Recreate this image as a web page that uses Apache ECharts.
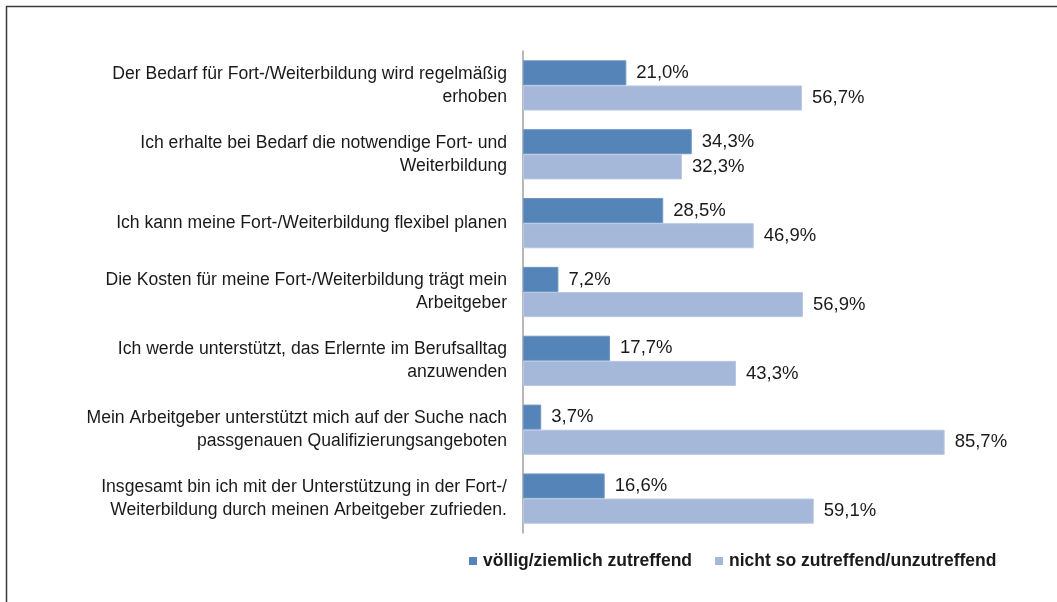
<!DOCTYPE html>
<html>
<head>
<meta charset="utf-8">
<script src="https://cdn.jsdelivr.net/npm/echarts@6/dist/echarts.min.js"></script>
<style>
  html, body { margin: 0; padding: 0; background: #fff; }
  #chart { width: 1057px; height: 602px; }
</style>
</head>
<body>
<div id="chart"></div>
<script>
const categories = [
  'Der Bedarf für Fort-/Weiterbildung wird regelmäßig\nerhoben',
  'Ich erhalte bei Bedarf die notwendige Fort- und\nWeiterbildung',
  'Ich kann meine Fort-/Weiterbildung flexibel planen',
  'Die Kosten für meine Fort-/Weiterbildung trägt mein\nArbeitgeber',
  'Ich werde unterstützt, das Erlernte im Berufsalltag\nanzuwenden',
  'Mein Arbeitgeber unterstützt mich auf der Suche nach\npassgenauen Qualifizierungsangeboten',
  'Insgesamt bin ich mit der Unterstützung in der Fort-/\nWeiterbildung durch meinen Arbeitgeber zufrieden.'
];
const seriesNames = ['völlig/ziemlich zutreffend', 'nicht so zutreffend/unzutreffend'];
const agree = [21.0, 34.3, 28.5, 7.2, 17.7, 3.7, 16.6];
const disagree = [56.7, 32.3, 46.9, 56.9, 43.3, 85.7, 59.1];

const chart = echarts.init(document.getElementById('chart'));

const font = 'Liberation Sans, Arial, sans-serif';
const fmt = p => p.value.toFixed(1).replace('.', ',') + '%';
const labelStyle = {
  show: true,
  position: 'right',
  distance: 10,
  formatter: fmt,
  fontFamily: font,
  fontSize: 18.5,
  color: '#1a1a1a'
};

chart.setOption({
  animation: false,
  backgroundColor: '#fff',
  graphic: [{
    type: 'rect',
    shape: { x: 6.5, y: 6.5, width: 1200, height: 800 },
    style: { fill: 'none', stroke: '#3a3a3a', lineWidth: 1.5 },
    silent: true
  }],
  grid: { left: 523, right: 42, top: 51, bottom: 69 },
  legend: {
    top: 552,
    left: 469,
    padding: 0,
    itemWidth: 8,
    itemHeight: 8,
    itemGap: 23,
    icon: 'rect',
    itemStyle: { borderWidth: 0 },
    textStyle: {
      fontFamily: font,
      fontSize: 17.5,
      fontWeight: 'bold',
      color: '#1a1a1a',
      padding: [0, 0, 0, 1]
    },
    data: seriesNames
  },
  xAxis: {
    type: 'value',
    min: 0,
    max: 100,
    show: false
  },
  yAxis: {
    type: 'category',
    inverse: true,
    data: categories,
    axisLine: { show: true, onZero: false, lineStyle: { color: '#a0a0a0', width: 1.5 } },
    axisTick: { show: false },
    axisLabel: {
      margin: 16,
      fontFamily: font,
      fontSize: 17.6,
      lineHeight: 23,
      color: '#1a1a1a',
      align: 'right'
    }
  },
  series: [
    {
      name: seriesNames[0],
      type: 'bar',
      data: agree,
      barGap: '0%',
      barCategoryGap: '27%',
      itemStyle: { color: '#5484b8', borderColor: '#6f97c4', borderWidth: 1 },
      label: labelStyle
    },
    {
      name: seriesNames[1],
      type: 'bar',
      data: disagree,
      itemStyle: { color: '#a5b8d9', borderColor: '#b8c8e2', borderWidth: 1 },
      label: labelStyle
    }
  ]
});
</script>
</body>
</html>
